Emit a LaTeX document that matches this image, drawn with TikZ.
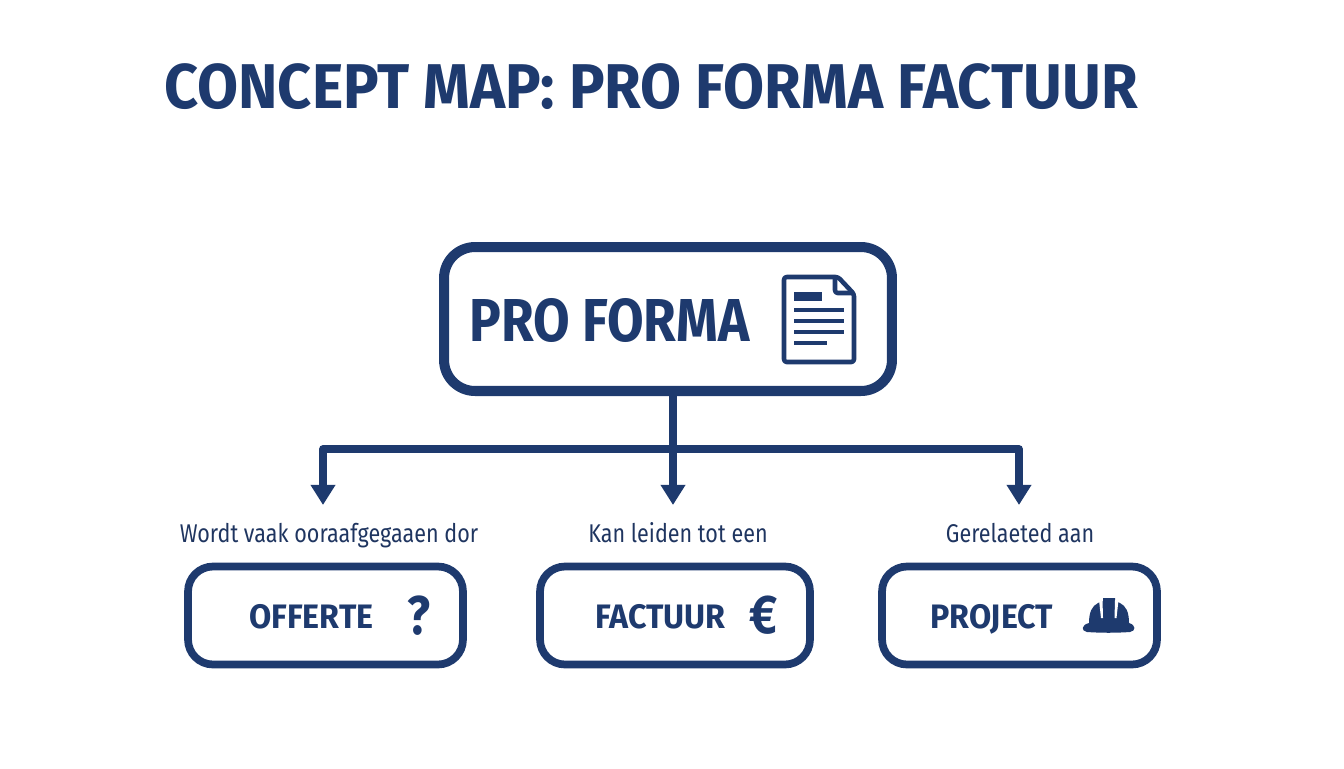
\documentclass[tikz,border=0pt]{standalone}
\usepackage{fontspec}
\usepackage{xcolor}
\setmainfont{Fira Sans}
\newfontfamily\titlefont[FakeStretch=0.94]{Fira Sans}
\newfontfamily\headfont[FakeStretch=0.875]{Fira Sans}
\newfontfamily\boxfont[FakeStretch=0.95]{Fira Sans}
\newfontfamily\relfont[FakeStretch=0.84]{Fira Sans}
\usetikzlibrary{arrows.meta,positioning,calc}
\definecolor{navy}{HTML}{1E3A6E}
\definecolor{darknavy}{HTML}{1F3560}
\tikzset{
  mainbox/.style={draw=navy, line width=5.7pt, rounded corners=0.62cm, minimum width=8.96cm, minimum height=2.88cm},
  childbox/.style={draw=navy, line width=4.4pt, rounded corners=0.5cm, minimum width=5.5cm, minimum height=1.96cm},
  boxtext/.style={text=navy, font=\boxfont\fontsize{19.3}{22}\selectfont\bfseries, inner sep=0pt, anchor=base west},
  relation/.style={text=darknavy, font=\relfont\fontsize{14.6}{18}\selectfont, inner sep=0pt, anchor=base},
  branch/.style={draw=navy, line width=4.4pt, line join=round},
  tipped/.style={branch, -{Triangle[length=11.5pt,width=13.5pt]}},
  iconline/.style={draw=navy, line width=2.6pt}
}

\begin{document}
\begin{tikzpicture}[x=0.02cm, y=-0.02cm]
    \useasboundingbox (0,0) rectangle (1344,768);

    % Title
    \node[text=navy, font=\titlefont\fontsize{36}{40}\selectfont\bfseries, inner sep=0pt, anchor=base west] (title) at (164,108) {CONCEPT MAP: PRO FORMA FACTUUR};

    % Main box
    \node[mainbox] (main) at (668,319) {};
    \node[text=navy, font=\headfont\fontsize{34.5}{40}\selectfont\bfseries, inner sep=0pt, anchor=base west] (maintext) at (469,341) {PRO FORMA};

    % Document icon
    \draw[iconline, line join=round, rounded corners=1.5pt] (784,277) -- (838,277) -- (854,294) -- (854,362) -- (784,362) -- cycle;
    \draw[iconline, line join=round, rounded corners=1.5pt] (835,278) -- (835,293) -- (853,293);
    \fill[navy] (794,292) rectangle (822,301);
    \foreach \y/\xend in {310/844, 321/844, 332/844, 343/827} {
        \draw[iconline] (794,\y) -- (\xend,\y);
    }

    % Child boxes
    \node[childbox] (offerte) at (325.5,615.5) {};
    \node[childbox, minimum width=5.4cm] (factuur) at (675,615.5) {};
    \node[childbox] (project) at (1019.5,615.5) {};
    \node[boxtext] (offertetext) at (249,628) {OFFERTE};
    \node[boxtext] (factuurtext) at (595,628) {FACTUUR};
    \node[boxtext] (projecttext) at (930,628) {PROJECT};

    % Relations
    \node[relation] (offerterel) at (329,542) {Wordt vaak ooraafgegaaen dor};
    \node[relation] (factuurrel) at (678,542) {Kan leiden tot een};
    \node[relation] (projectrel) at (1020,542) {Gerelaeted aan};

    % Icons in the child boxes
    \node[text=navy, font=\headfont\fontsize{31}{34}\selectfont\bfseries, inner sep=0pt, anchor=base] (question) at (419,634) {?};
    \node[text=navy, font=\headfont\fontsize{31}{34}\selectfont\bfseries, inner sep=0pt, anchor=base] (euro) at (764,633) {€};
    \fill[navy] (1089,623) .. controls (1089,612) and (1092,606) .. (1098,603) -- (1103,601) -- (1103,598) -- (1115,598) -- (1115,601) -- (1120,603)
        .. controls (1126,606) and (1129,612) .. (1129,623) .. controls (1136,625) and (1136,631) .. (1130,632)
        .. controls (1115,633) and (1102,633) .. (1087,632) .. controls (1081,631) and (1081,625) .. (1089,623) -- cycle;
    \fill[white] (1099,600) -- (1102.5,600) -- (1103,618) -- (1101,618) -- cycle;
    \fill[white] (1115,600) -- (1118.5,600) -- (1116.5,618) -- (1114.5,618) -- cycle;

    % Connectors
    \coordinate (trunk) at ($(main.south)+(5,0)$);
    \coordinate (junction) at (trunk |- 0,449);
    \coordinate (tipleft) at (323,505);
    \coordinate (tipmid) at (trunk |- 0,505);
    \coordinate (tipright) at (1019,505);
    \draw[tipped] (trunk) -- (tipmid);
    \draw[tipped] (junction) -| (tipleft);
    \draw[tipped] (junction) -| (tipright);
\end{tikzpicture}
\end{document}
